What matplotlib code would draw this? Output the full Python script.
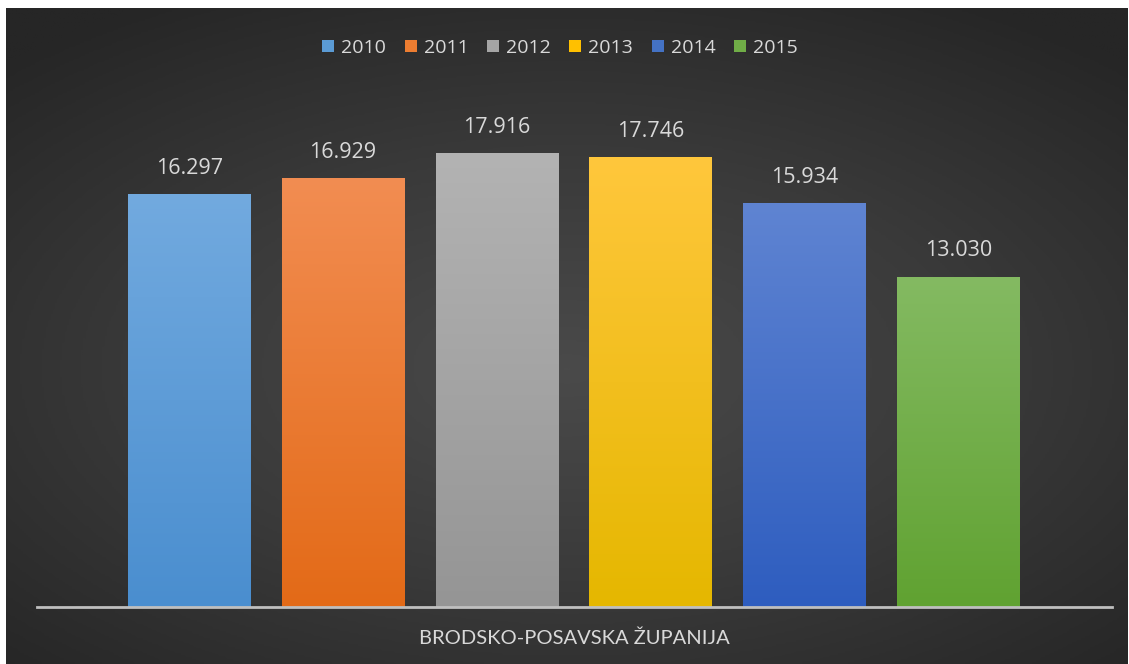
import numpy as np
import matplotlib.pyplot as plt
from matplotlib.colors import LinearSegmentedColormap
from matplotlib.patches import Patch

years = ['2010', '2011', '2012', '2013', '2014', '2015']
values = [16.297, 16.929, 17.916, 17.746, 15.934, 13.030]
labels = ['16.297', '16.929', '17.916', '17.746', '15.934', '13.030']
category = 'BRODSKO-POSAVSKA ŽUPANIJA'
# (top colour, bottom colour) per bar
colors = [('#72aadf', '#4a8ecf'),
          ('#f28d52', '#e36a17'),
          ('#b3b3b3', '#959595'),
          ('#ffc73c', '#e5b700'),
          ('#5f84d2', '#2e5dbf'),
          ('#84ba62', '#60a231')]
legend_colors = ['#5b9bd5', '#ed7d31', '#a5a5a5', '#ffc000', '#4472c4', '#70ad47']

W, H = 1129, 664
fig = plt.figure(figsize=(W / 100, H / 100), dpi=100, facecolor='white')

# dark radial background
bg = fig.add_axes([6 / W, 0, (W - 7) / W, (H - 8) / H])
bg.set_axis_off()
yy, xx = np.mgrid[-1:1:300j, -1:1:500j]
r = np.sqrt((xx * 0.9) ** 2 + ((yy - 0.1) * 1.0) ** 2)
bgmap = LinearSegmentedColormap.from_list('bg', ['#4a4a4a', '#3a3a3a', '#262626'])
bg.imshow(np.clip(r / 1.3, 0, 1), cmap=bgmap, aspect='auto', extent=[0, 1, 0, 1])
bg.set_xlim(0, 1)
bg.set_ylim(0, 1)

font = 'Open Sans'
ax = fig.add_axes([37 / W, (H - 607) / H, (1112 - 37) / W, 507 / H])
ax.set_facecolor('none')
x = np.arange(len(years))
bars = ax.bar(x, values, 0.795, color=[c[0] for c in colors], zorder=2)
for b, (top, bot), lab in zip(bars, colors, labels):
    cmap = LinearSegmentedColormap.from_list('g', [bot, top])
    grad = np.linspace(0, 1, 256).reshape(-1, 1)
    x0, w, h = b.get_x(), b.get_width(), b.get_height()
    im = ax.imshow(grad, cmap=cmap, origin='lower', aspect='auto',
                   extent=[x0, x0 + w, 0, h], zorder=3)
    im.set_clip_path(b)
    ax.annotate(lab, (x0 + w / 2, h), xytext=(0, 18.5), textcoords='offset points',
                ha='center', va='center', color='#d9d9d9', fontsize=15.5, family=font)

ax.set_xlim(-0.99, 6.0)
ax.set_ylim(0, 20)
for s in ['top', 'right', 'left']:
    ax.spines[s].set_visible(False)
ax.spines['bottom'].set_color('#bfbfbf')
ax.spines['bottom'].set_linewidth(2)
ax.spines['bottom'].set_zorder(5)
ax.set_yticks([])
ax.set_xticks([])

fig.text(574 / W, 1 - 638 / H, category, ha='center', va='center',
         color='#d9d9d9', fontsize=14.5, family='Lato')

handles = [Patch(facecolor=c, edgecolor='none') for c in legend_colors]
leg = fig.legend(handles, years, loc='center', bbox_to_anchor=(560 / W, 1 - 48 / H),
                 ncol=6, frameon=False, handlelength=0.62, handleheight=0.62,
                 handletextpad=0.36, columnspacing=0.95,
                 prop={'family': font, 'size': 14})
for t in leg.get_texts():
    t.set_color('#d9d9d9')

fig.savefig('out.png', dpi=100, facecolor='white')
